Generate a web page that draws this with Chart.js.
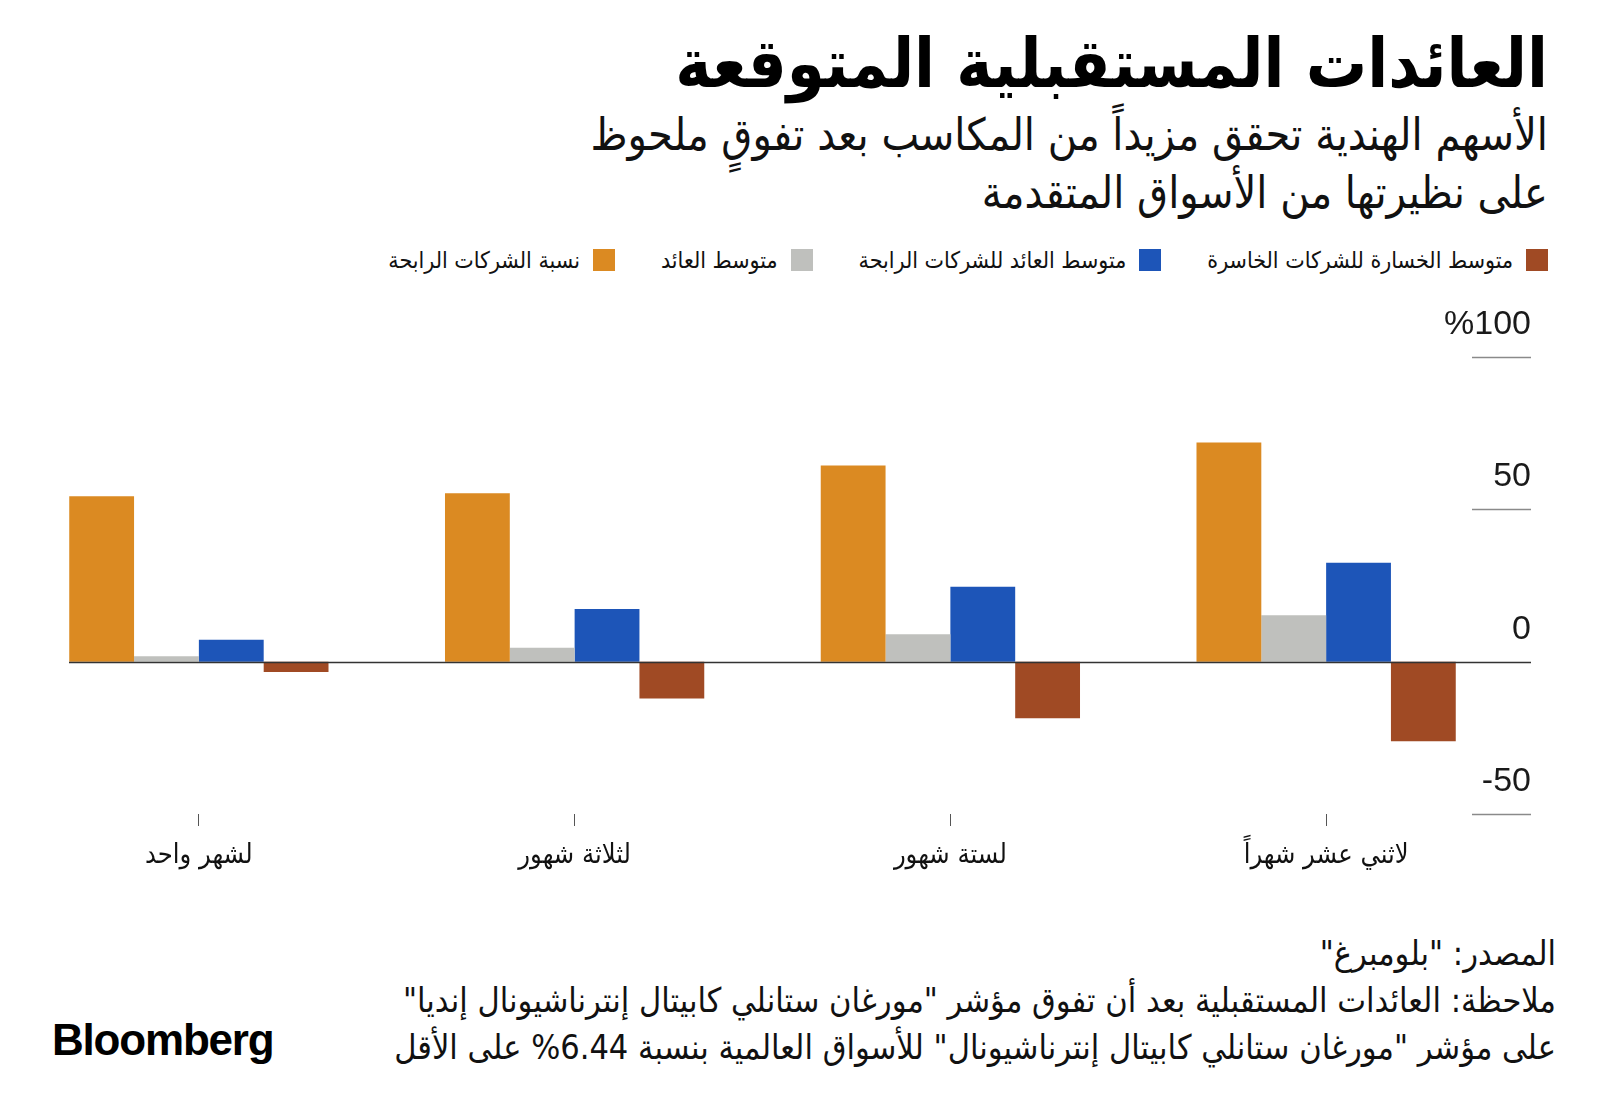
<!DOCTYPE html>
<html lang="ar">
<head>
<meta charset="utf-8">
<title>العائدات المستقبلية المتوقعة</title>
<script src="https://cdn.jsdelivr.net/npm/chart.js@4/dist/chart.umd.min.js"></script>
<style>
  html, body { margin: 0; padding: 0; background: #ffffff; }
  body { width: 1600px; height: 1119px; position: relative; overflow: hidden; font-family: "DejaVu Sans Condensed", "DejaVu Sans", sans-serif; color: #111; }
  .rtl { position: absolute; direction: rtl; text-align: right; white-space: nowrap; }
  #title { right: 52px; top: 24px; font-size: 68px; font-weight: bold; line-height: 80px; color: #000; }
  #subtitle { right: 52px; top: 106px; font-size: 44.5px; line-height: 58px; }
  #legend { right: 52px; top: 247px; display: flex; flex-direction: row; gap: 0; font-size: 23px; }
  .legend-item { display: flex; align-items: center; margin-left: 46px; }
  .legend-box { width: 22px; height: 22px; margin-left: 13px; }
  #chartWrap { position: absolute; left: 0; top: 300px; width: 1600px; height: 600px; }
  #footer { right: 44px; top: 930px; font-size: 34px; line-height: 47px; }
  #logo { position: absolute; left: 52px; top: 1015px; font-family: "Liberation Sans", Arial, sans-serif; font-weight: bold; font-size: 44px; letter-spacing: -1.2px; color: #000; }
</style>
</head>
<body>
<div id="title" class="rtl">العائدات المستقبلية المتوقعة</div>
<div id="subtitle" class="rtl">الأسهم الهندية تحقق مزيداً من المكاسب بعد تفوقٍ ملحوظ<br>على نظيرتها من الأسواق المتقدمة</div>
<div id="legend" class="rtl"></div>
<div id="chartWrap"><canvas id="chart" width="1600" height="600"></canvas></div>
<div id="footer" class="rtl">المصدر: "بلومبرغ"<br>ملاحظة: العائدات المستقبلية بعد أن تفوق مؤشر "مورغان ستانلي كابيتال إنترناشيونال إنديا"<br>على مؤشر "مورغان ستانلي كابيتال إنترناشيونال" للأسواق العالمية بنسبة 6.44% على الأقل</div>
<div id="logo">Bloomberg</div>
<script>
console.log('chart: Loaded');

// categories, left to right as drawn
const categories = ['لشهر واحد', 'لثلاثة شهور', 'لستة شهور', 'لاثني عشر شهراً'];

// series values (%)
const profitableShare = [54.3, 55.3, 64.4, 71.9];
const averageReturn = [1.8, 4.6, 9.0, 15.2];
const averageWinnerReturn = [7.2, 17.3, 24.6, 32.5];
const averageLoserLoss = [-3.4, -12.1, -18.6, -26.1];

const seriesNames = ['نسبة الشركات الرابحة', 'متوسط العائد', 'متوسط العائد للشركات الرابحة', 'متوسط الخسارة للشركات الخاسرة'];
const seriesColors = ['#db8a22', '#bfc0bd', '#1d55b8', '#a04a24'];

// y tick labels
const yTicks = [100, 50, 0, -50];
const yTickLabels = ['%100', '50', '0', '-50'];

function buildLegend() {
    const legend = document.getElementById('legend');
    // legend reads right to left: loss first
    for (let i = seriesNames.length - 1; i >= 0; i--) {
        const item = document.createElement('div');
        item.className = 'legend-item';
        const box = document.createElement('span');
        box.className = 'legend-box';
        box.style.background = seriesColors[i];
        const label = document.createElement('span');
        label.textContent = seriesNames[i];
        item.appendChild(box);
        item.appendChild(label);
        legend.appendChild(item);
    }
}

// short tick lines and labels on the right, plus the zero line
const rightAxisPlugin = {
    id: 'rightAxis',
    afterDatasetsDraw(chart) {
        const ctx = chart.ctx;
        const y = chart.scales.y;
        const area = chart.chartArea;
        ctx.save();
        yTicks.forEach((v, i) => {
            const py = Math.round(y.getPixelForValue(v)) + 0.5;
            ctx.strokeStyle = v === 0 ? '#333333' : '#8a8a8a';
            ctx.lineWidth = 1.5;
            ctx.beginPath();
            ctx.moveTo(v === 0 ? area.left + 58 : 1472, py);
            ctx.lineTo(1531, py);
            ctx.stroke();
            ctx.fillStyle = '#1a1a1a';
            ctx.font = '34px "Liberation Sans", Arial, sans-serif';
            ctx.textAlign = 'right';
            ctx.textBaseline = 'alphabetic';
            ctx.fillText(yTickLabels[i], 1531, py - 24);
        });
        ctx.restore();
    }
};

function drawChart() {
    const canvas = document.getElementById('chart');
    if (!window.Chart) {
        console.error('Chart.js is not loaded');
        return;
    }
    const values = [profitableShare, averageReturn, averageWinnerReturn, averageLoserLoss];
    new Chart(canvas, {
        type: 'bar',
        data: {
            labels: categories,
            datasets: values.map((data, i) => ({
                label: seriesNames[i],
                data: data,
                backgroundColor: seriesColors[i],
                borderWidth: 0,
                barPercentage: 1,
                categoryPercentage: 0.69
            }))
        },
        options: {
            responsive: false,
            animation: false,
            layout: { padding: { left: 11, right: 86, top: 57, bottom: 0 } },
            plugins: {
                legend: { display: false },
                tooltip: { enabled: false }
            },
            scales: {
                x: {
                    afterFit: (scale) => { scale.height = 86; },
                    border: { display: false },
                    grid: {
                        offset: false,
                        drawOnChartArea: false,
                        drawTicks: true,
                        tickLength: 12,
                        tickColor: '#555555',
                        lineWidth: 1
                    },
                    ticks: {
                        color: '#111111',
                        padding: 14,
                        maxRotation: 0,
                        font: { family: '"DejaVu Sans Condensed", "DejaVu Sans", sans-serif', size: 27 }
                    }
                },
                y: {
                    display: false,
                    min: -50,
                    max: 100
                }
            }
        },
        plugins: [rightAxisPlugin]
    });
}

buildLegend();
drawChart();
</script>
</body>
</html>
